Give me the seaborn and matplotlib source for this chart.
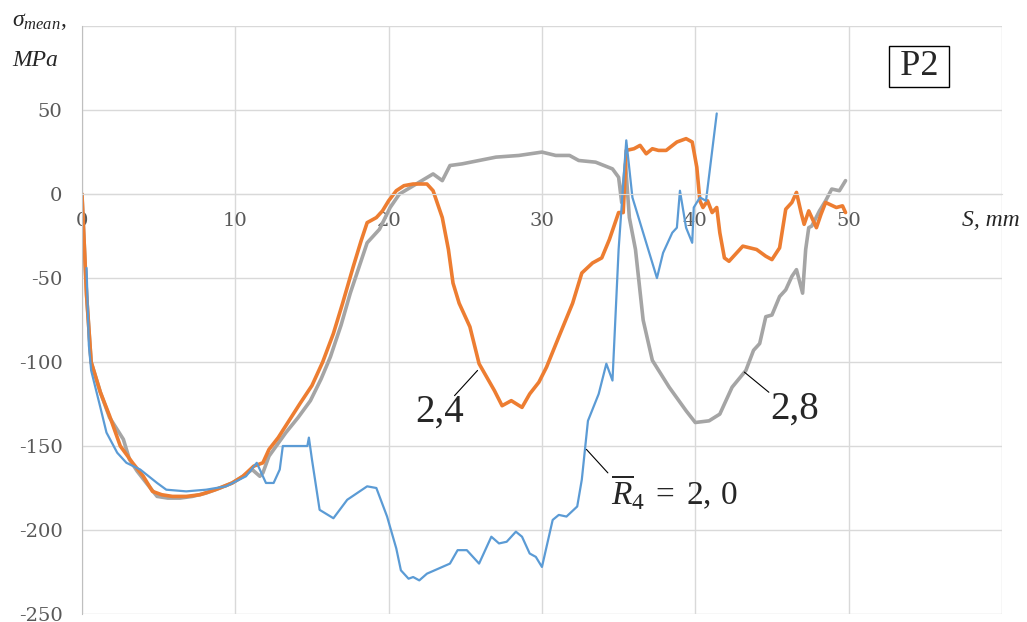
import numpy as np
import pandas as pd
import matplotlib.pyplot as plt
import seaborn as sns

# R4 = 2,4 (orange)
s_24 = [0, 0.15, 0.3, 0.6, 1.0, 1.2, 1.8, 2.5, 3.3, 4.0,
        4.6, 5.2, 5.9, 6.8, 7.7, 8.7, 9.8, 10.5, 11.2, 11.8,
        12.2, 12.8, 13.5, 14.2, 15.0, 15.7, 16.4, 17.0, 17.7, 18.2,
        18.6, 19.2, 19.6, 20.0, 20.5, 21.0, 21.6, 22.5, 22.9, 23.5,
        23.9, 24.2, 24.6, 25.3, 25.9, 26.4, 26.9, 27.4, 28.0, 28.7,
        29.2, 29.8, 30.3, 31.1, 32.0, 32.6, 33.3, 33.9, 34.4, 35.0,
        35.3, 35.5, 36.0, 36.4, 36.8, 37.2, 37.6, 38.1, 38.8, 39.4,
        39.8, 40.1, 40.3, 40.5, 40.8, 41.1, 41.4, 41.6, 41.9, 42.2,
        42.6, 43.1, 44.0, 44.6, 45.0, 45.5, 45.9, 46.3, 46.6, 46.9,
        47.1, 47.4, 47.9, 48.2, 48.5, 49.2, 49.6, 49.8]
sig_24 = [0, -30, -60, -100, -112, -118, -132, -150, -160, -168,
          -177, -179, -180, -180, -179, -176, -172, -168, -162, -160,
          -152, -145, -135, -125, -114, -100, -83, -65, -43, -28,
          -17, -14, -10, -4, 2, 5, 6, 6, 2, -14,
          -33, -53, -65, -79, -101, -109, -117, -126, -123, -127,
          -119, -112, -103, -85, -65, -47, -41, -38, -27, -11,
          -11, 26, 27, 29, 24, 27, 26, 26, 31, 33,
          31, 16, -4, -8, -4, -11, -8, -23, -38, -40,
          -36, -31, -33, -37, -39, -32, -9, -5, 1, -11,
          -18, -10, -20, -12, -5, -8, -7, -11]

# R4 = 2,8 (gray)
s_28 = [0, 0.15, 0.3, 0.6, 1.2, 1.8, 2.7, 3.1, 3.6, 4.2,
        4.9, 5.6, 6.4, 7.2, 8.1, 9.0, 9.8, 10.5, 11.1, 11.6,
        11.8, 12.2, 13.3, 14.1, 14.9, 15.6, 16.2, 16.9, 17.5, 18.6,
        19.4, 20.1, 20.7, 21.8, 22.9, 23.5, 24.0, 24.8, 25.9, 27.0,
        28.5, 30.0, 30.9, 31.8, 32.4, 33.5, 34.6, 35.0, 35.2, 35.45,
        35.7, 36.1, 36.6, 37.2, 38.3, 39.4, 40.0, 40.9, 41.6, 42.4,
        43.3, 43.8, 44.2, 44.6, 45.0, 45.5, 45.9, 46.3, 46.6, 47.0,
        47.2, 47.4, 47.6, 48.1, 48.5, 48.9, 49.4, 49.8]
sig_28 = [0, -30, -60, -100, -118, -133, -146, -158, -165, -172,
          -180, -181, -181, -180, -178, -175, -172, -168, -164, -168,
          -166, -156, -142, -133, -123, -110, -97, -78, -59, -29,
          -21, -8, 0, 6, 12, 8, 17, 18, 20, 22,
          23, 25, 23, 23, 20, 19, 15, 10, -5, 18,
          -14, -33, -75, -99, -115, -129, -136, -135, -131, -115,
          -105, -93, -89, -73, -72, -61, -57, -49, -45, -59,
          -33, -20, -19, -10, -4, 3, 2, 8]

# R4 = 2,0 (blue)
s_20 = [0.3, 0.45, 0.6, 1.2, 1.6, 2.3, 2.9, 3.8, 4.9, 5.5,
        6.8, 8.1, 9.4, 10.7, 11.4, 12.0, 12.5, 12.9, 13.1, 14.2,
        14.7, 14.8, 15.0, 15.5, 16.4, 17.3, 18.6, 19.2, 19.9, 20.5,
        20.8, 21.3, 21.6, 22.0, 22.5, 23.5, 24.0, 24.5, 25.1, 25.9,
        26.7, 27.2, 27.7, 28.3, 28.7, 29.2, 29.6, 30.0, 30.7, 31.1,
        31.6, 32.3, 32.6, 33.0, 33.7, 34.2, 34.6, 35.0, 35.5, 35.9,
        37.5, 37.9, 38.5, 38.8, 39.0, 39.4, 39.8, 39.9, 40.3, 40.7,
        41.4]
sig_20 = [-44, -90, -105, -127, -142, -154, -160, -164, -172, -176,
          -177, -176, -174, -168, -160, -172, -172, -164, -150, -150,
          -150, -145, -158, -188, -193, -182, -174, -175, -192, -211,
          -224, -229, -228, -230, -226, -222, -220, -212, -212, -220,
          -204, -208, -207, -201, -204, -214, -216, -222, -194, -191,
          -192, -186, -170, -135, -119, -101, -111, -33, 32, -2,
          -50, -35, -23, -20, 2, -20, -29, -8, -2, -4,
          48]

x_ticks = [0, 10, 20, 30, 40, 50, 60]
x_labels = ["0", "10", "20", "30", "40", "50", ""]
y_ticks = [-250, -200, -150, -100, -50, 0, 50, 100]
y_labels = ["-250", "-200", "-150", "-100", "-50", "0", "50", ""]

sns.set_style("white")
plt.rcParams["mathtext.fontset"] = "custom"
plt.rcParams["mathtext.rm"] = "Liberation Serif"
plt.rcParams["mathtext.it"] = "Liberation Serif:italic"

fig = plt.figure(figsize=(10.27, 6.22), dpi=100)
ax = fig.add_axes([0.0798, 0.0129, 0.8958, 0.9451])

series = [
    (s_28, sig_28, "#A5A5A5", 2.6),
    (s_24, sig_24, "#ED7D31", 2.6),
    (s_20, sig_20, "#5B9BD5", 1.6),
]
for s, sig, col, lw in series:
    sns.lineplot(x=s, y=sig, ax=ax, color=col, lw=lw, sort=False, estimator=None)

ax.set_xlim(0, 60)
ax.set_ylim(-250, 100)
ax.set_xticks(x_ticks)
ax.set_xticklabels(x_labels)
ax.set_yticks(y_ticks)
ax.set_yticklabels(y_labels)
ax.grid(True, color="#d9d9d9", lw=1)
ax.set_axisbelow(True)

for side in ["top", "right"]:
    ax.spines[side].set_visible(False)
ax.spines["bottom"].set_position(("data", 0))
ax.spines["bottom"].set_color("#d9d9d9")
ax.spines["left"].set_color("#bfbfbf")
ax.tick_params(axis="both", length=0, labelcolor="#595959", labelsize=14)
ax.tick_params(axis="x", pad=13)
ax.tick_params(axis="y", pad=14)
for lab in ax.get_xticklabels() + ax.get_yticklabels():
    lab.set_fontfamily("DejaVu Serif")
ax.set_xlabel("")
ax.set_ylabel("")

# leader lines and curve labels
lead = dict(arrowstyle="-", lw=0.8, color="black", shrinkA=0, shrinkB=0)
ax.annotate("", xy=(25.8, -105), xytext=(24.3, -120), arrowprops=lead)
ax.text(23.3, -130, "2,4", fontsize=28, family="Liberation Serif", ha="center", va="center")
ax.annotate("", xy=(43.2, -106), xytext=(44.8, -118), arrowprops=lead)
ax.text(46.5, -128, "2,8", fontsize=28, family="Liberation Serif", ha="center", va="center")
ax.annotate("", xy=(32.9, -152), xytext=(34.3, -166), arrowprops=lead)
ax.text(34.5, -177, r"$\overline{R}_4\;=\;2,\,0$", fontsize=24, ha="left", va="center")

ax.text(54.6, 76, "\u2009P2\u2009", fontsize=26, family="Liberation Serif", ha="center",
        va="center", bbox=dict(boxstyle="square,pad=0.1", fc="white", ec="black", lw=1))

fig.text(0.012, 0.968, r"$\sigma_{mean},$", fontsize=17, ha="left", va="center")
fig.text(0.012, 0.903, "MPa", fontsize=17, family="Liberation Serif", style="italic",
         ha="left", va="center")
fig.text(0.965, 1 - 221 / 622, "S, mm", fontsize=17, family="Liberation Serif",
         style="italic", ha="center", va="center")

fig.savefig("out.png", dpi=100)
